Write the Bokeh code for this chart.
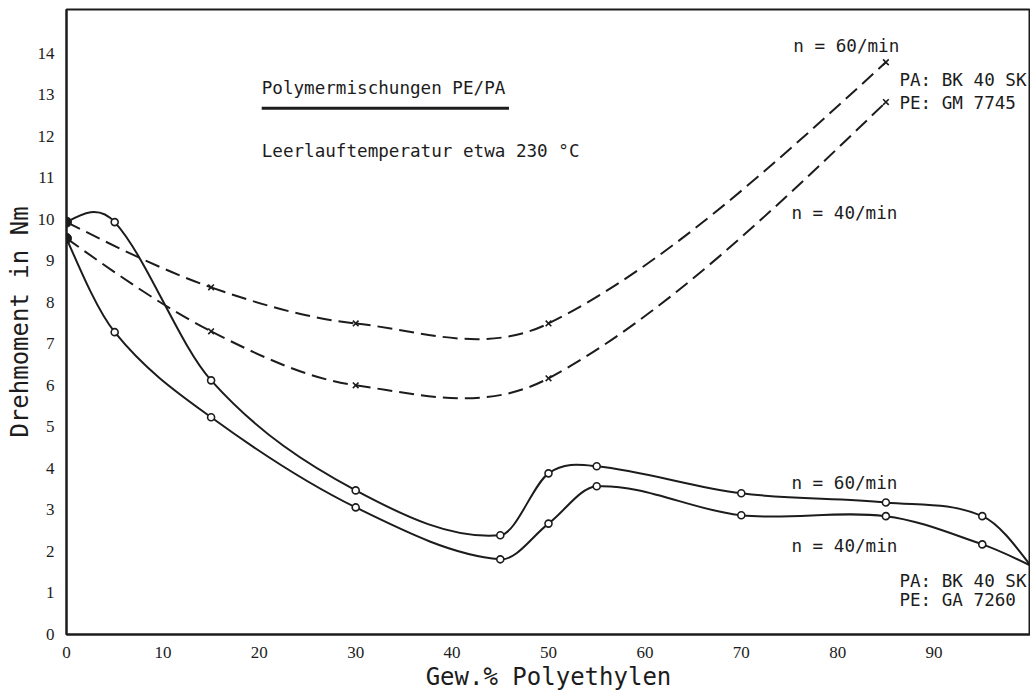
import numpy as np
from bokeh.plotting import figure
from bokeh.models import FixedTicker, Range1d, Label
from bokeh.embed import file_html
from bokeh.resources import INLINE

# ---------------- data ----------------
x_solid = [0, 5, 15, 30, 45, 50, 55, 70, 85, 95, 100]
torque_solid_n60 = [9.93, 9.93, 6.12, 3.47, 2.39, 3.88, 4.05, 3.40, 3.18, 2.85, 1.66]
torque_solid_n40 = [9.54, 7.28, 5.23, 3.06, 1.81, 2.67, 3.57, 2.87, 2.85, 2.17, 1.66]

x_dashed = [0, 15, 30, 50, 85]
torque_dashed_n60 = [9.93, 8.36, 7.49, 7.49, 13.78]
torque_dashed_n40 = [9.54, 7.30, 6.00, 6.17, 12.82]

x_tick_values = [0, 10, 20, 30, 40, 50, 60, 70, 80, 90]
y_tick_values = [0, 1, 2, 3, 4, 5, 6, 7, 8, 9, 10, 11, 12, 13, 14]

x_title = "Gew.% Polyethylen"
y_title = "Drehmoment in Nm"
title_text = "Polymermischungen PE/PA"
subtitle_text = "Leerlauftemperatur etwa 230 °C"
label_n60 = "n = 60/min"
label_n40 = "n = 40/min"
label_pa = "PA: BK 40 SK"
label_pe_gm = "PE: GM 7745"
label_pe_ga = "PE: GA 7260"

# ---------------- styling / layout ----------------
INK = "#1c1c1c"
MONO = "DejaVu Sans Mono"


def smooth_segments(xs, ys):
    """Cubic Hermite (Catmull-Rom style) segments expressed as Bezier control points."""
    xs = np.asarray(xs, float)
    ys = np.asarray(ys, float)
    n = len(xs)
    m = np.zeros(n)
    for i in range(1, n - 1):
        m[i] = (ys[i + 1] - ys[i - 1]) / (xs[i + 1] - xs[i - 1])
    s0 = (ys[1] - ys[0]) / (xs[1] - xs[0])
    sn = (ys[-1] - ys[-2]) / (xs[-1] - xs[-2])
    m[0] = (3 * s0 - m[1]) / 2
    m[-1] = (3 * sn - m[-2]) / 2
    h = np.diff(xs)
    return dict(
        x0=xs[:-1], y0=ys[:-1], x1=xs[1:], y1=ys[1:],
        cx0=xs[:-1] + h / 3, cy0=ys[:-1] + m[:-1] * h / 3,
        cx1=xs[1:] - h / 3, cy1=ys[1:] - m[1:] * h / 3,
    )


p = figure(
    width=1030, height=694,
    x_range=Range1d(0, 100), y_range=Range1d(0, 15.05),
    output_backend="svg", toolbar_location=None,
    min_border_left=66, min_border_right=0, min_border_top=9, min_border_bottom=60,
    background_fill_color="white", border_fill_color="white",
)
p.xgrid.visible = False
p.ygrid.visible = False
p.outline_line_color = INK
p.outline_line_width = 2

for ax in (p.xaxis, p.yaxis):
    ax.axis_line_color = INK
    ax.axis_line_width = 2
    ax.major_tick_line_color = None
    ax.minor_tick_line_color = None
    ax.major_label_standoff = 6
    ax.major_label_text_font = "Liberation Sans Narrow"
    ax.major_label_text_font_size = "17px"
    ax.major_label_text_color = INK
    ax.axis_label_text_font = MONO
    ax.axis_label_text_font_size = "24px"
    ax.axis_label_text_font_style = "normal"
    ax.axis_label_text_color = INK

p.xaxis.ticker = FixedTicker(ticks=x_tick_values)
p.yaxis.ticker = FixedTicker(ticks=y_tick_values)
p.xaxis.axis_label = x_title
p.yaxis.axis_label = y_title
p.xaxis.axis_label_standoff = 2
p.yaxis.axis_label_standoff = 1

# curves
for ys in (torque_solid_n60, torque_solid_n40):
    seg = smooth_segments(x_solid, ys)
    p.bezier(**seg, line_color=INK, line_width=2)
    p.scatter(x_solid[1:-1], ys[1:-1], marker="circle", size=7,
              line_color=INK, line_width=1.6, fill_color="white")
    p.scatter(x_solid[:1], ys[:1], marker="circle", size=10,
              line_color=INK, fill_color=INK)

for ys in (torque_dashed_n60, torque_dashed_n40):
    seg = smooth_segments(x_dashed, ys)
    p.bezier(**seg, line_color=INK, line_width=2, line_dash="15 7")
    p.scatter(x_dashed[1:], ys[1:], marker="x", size=8,
              line_color=INK, line_width=1.6)

# annotations (positions in data units)
annotations = [
    (20.25, 13.17, title_text),
    (20.25, 11.65, subtitle_text),
    (75.4, 14.18, label_n60),
    (86.4, 13.36, label_pa),
    (86.4, 12.81, label_pe_gm),
    (75.2, 10.14, label_n40),
    (75.2, 3.64, label_n60),
    (75.2, 2.12, label_n40),
    (86.4, 1.30, label_pa),
    (86.4, 0.82, label_pe_ga),
]
for ax_, ay_, txt in annotations:
    p.add_layout(Label(x=ax_, y=ay_, text=txt, text_font=MONO,
                       text_font_size="17.6px", text_color=INK,
                       text_baseline="middle", text_align="left"))

p.segment(x0=[20.25], y0=[12.67], x1=[45.9], y1=[12.67],
          line_color=INK, line_width=3)

open("out.html", "w").write(file_html(p, INLINE))
